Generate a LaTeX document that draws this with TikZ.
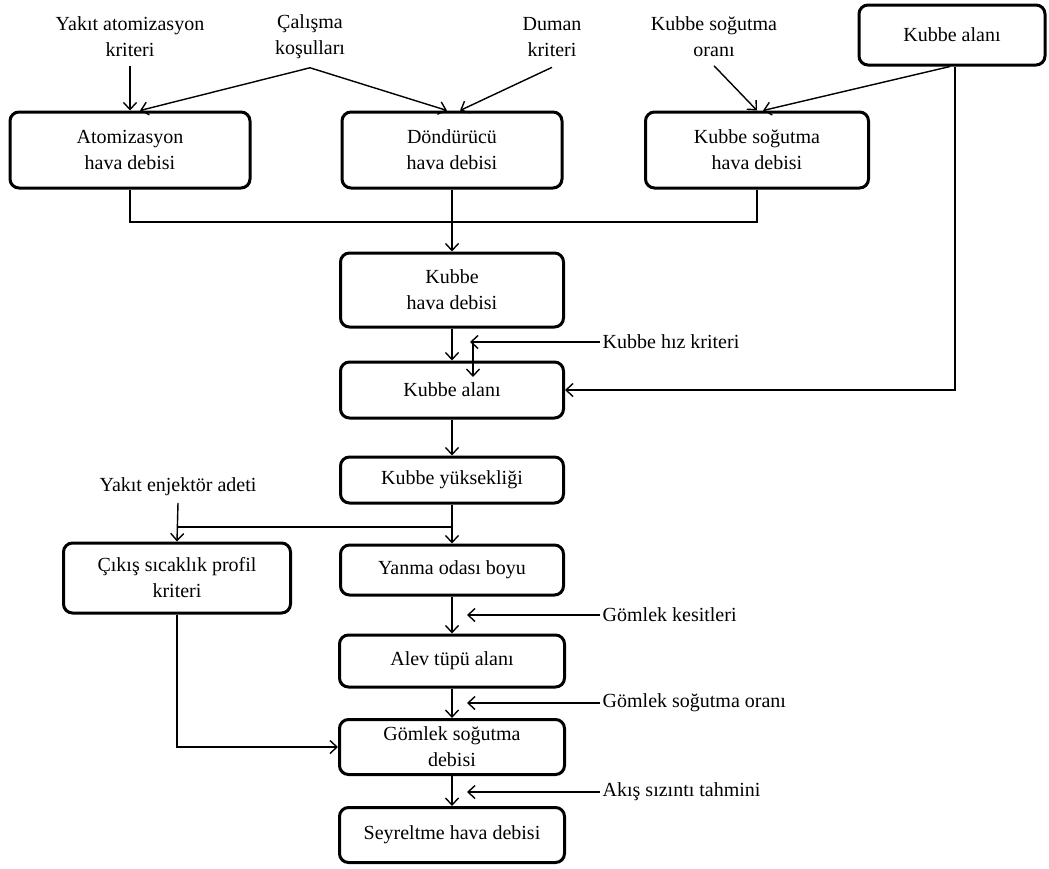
\documentclass[tikz,border=0pt]{standalone}
\usepackage{fontspec}
\setmainfont{Liberation Serif}
\usetikzlibrary{arrows.meta}

\begin{document}
\begin{tikzpicture}[x=1pt,y=-1pt,line width=1.4pt,
  kutu/.style={draw,rounded corners=9pt,line width=3pt,align=center,inner sep=2pt},
  yazi/.style={align=center,inner sep=2pt},
  ok/.style={-{Straight Barb[length=7pt,width=13pt]}},
  font=\fontsize{20}{26}\selectfont]
  \useasboundingbox (0,0) rectangle (1049,868);

  % ust sira
  \node[kutu,minimum width=240,minimum height=76] (atom) at (130,150) {Atomizasyon\\hava debisi};
  \node[kutu,minimum width=220,minimum height=76] (donduru) at (452,150) {Döndürücü\\hava debisi};
  \node[kutu,minimum width=223,minimum height=76] (kso) at (757,150) {Kubbe soğutma\\hava debisi};
  \node[kutu,minimum width=186,minimum height=60] (kubalan) at (952,35) {Kubbe alanı};
  \node[yazi] (yakatom) at (130,37) {Yakıt atomizasyon\\kriteri};
  \node[yazi] (calisma) at (310,37) {Çalışma\\koşulları};
  \node[yazi] (duman) at (552,37) {Duman\\kriteri};
  \node[yazi] (kubso) at (714,37) {Kubbe soğutma\\oranı};

  % orta kolon
  \node[kutu,minimum width=223,minimum height=74] (khd) at (452,290) {Kubbe\\hava debisi};
  \node[kutu,minimum width=223,minimum height=56] (kalan) at (452,390) {Kubbe alanı};
  \node[kutu,minimum width=223,minimum height=46] (kyuk) at (452,480) {Kubbe yüksekliği};
  \node[kutu,minimum width=223,minimum height=50] (yob) at (452,570) {Yanma odası boyu};
  \node[kutu,minimum width=227,minimum height=70] (cikis) at (177,578) {Çıkış sıcaklık profil\\kriteri};
  \node[kutu,minimum width=225,minimum height=52] (alev) at (452,661) {Alev tüpü alanı};
  \node[kutu,minimum width=225,minimum height=55] (gsd) at (452,747) {Gömlek soğutma\\debisi};
  \node[kutu,minimum width=225,minimum height=55] (sey) at (452,835) {Seyreltme hava debisi};

  % yan girdiler
  \node[yazi,anchor=west] (khiz) at (600,342) {Kubbe hız kriteri};
  \node[yazi] (yenj) at (178,487) {Yakıt enjektör adeti};
  \node[yazi,anchor=west] (gkes) at (600,615) {Gömlek kesitleri};
  \node[yazi,anchor=west] (gsoran) at (600,703) {Gömlek soğutma oranı};
  \node[yazi,anchor=west] (akis) at (600,792) {Akış sızıntı tahmini};

  \coordinate (birles) at (452,222);
  \coordinate (dal) at (452,527);
  \coordinate (hizuc) at (470,342);
  \coordinate (hizdon) at (473,342);
  \coordinate (hizsn) at (473,377);

  % oklar
  \draw[ok] ([yshift=-6pt]yakatom.south) -- (atom.north);
  \draw[ok] ([yshift=-6pt]calisma.south) -- ([xshift=10pt]atom.north);
  \draw[ok] ([yshift=-6pt]calisma.south) -- ([xshift=-5pt]donduru.north);
  \draw[ok] ([yshift=-8pt]duman.south) -- ([xshift=8pt]donduru.north);
  \draw[ok] ([yshift=-6pt]kubso.south) -- (kso.north);
  \draw[ok] ([xshift=-2pt]kubalan.south) -- ([xshift=6pt]kso.north);
  \draw (atom.south) |- (birles);
  \draw (kso.south) |- (birles);
  \draw[ok] (donduru.south) -- (khd.north);
  \draw[ok] (khd.south) -- (kalan.north);
  \draw[ok] (khiz.west) -- (hizuc);
  \draw[ok] (hizdon) -- (hizsn);
  \draw[ok] ([xshift=3pt]kubalan.south) |- (kalan.east);
  \draw[ok] (kalan.south) -- (kyuk.north);
  \draw[ok] (kyuk.south) -- (yob.north);
  \draw (dal) -- (dal -| yenj.south);
  \draw[ok] ([yshift=-4pt]yenj.south) -- (cikis.north);
  \draw[ok] (yob.south) -- (alev.north);
  \draw[ok] (gkes.west) -- ++(-133,0);
  \draw[ok] (alev.south) -- (gsd.north);
  \draw[ok] (gsoran.west) -- ++(-133,0);
  \draw[ok] (cikis.south) |- (gsd.west);
  \draw[ok] (gsd.south) -- (sey.north);
  \draw[ok] (akis.west) -- ++(-133,0);
\end{tikzpicture}
\end{document}
